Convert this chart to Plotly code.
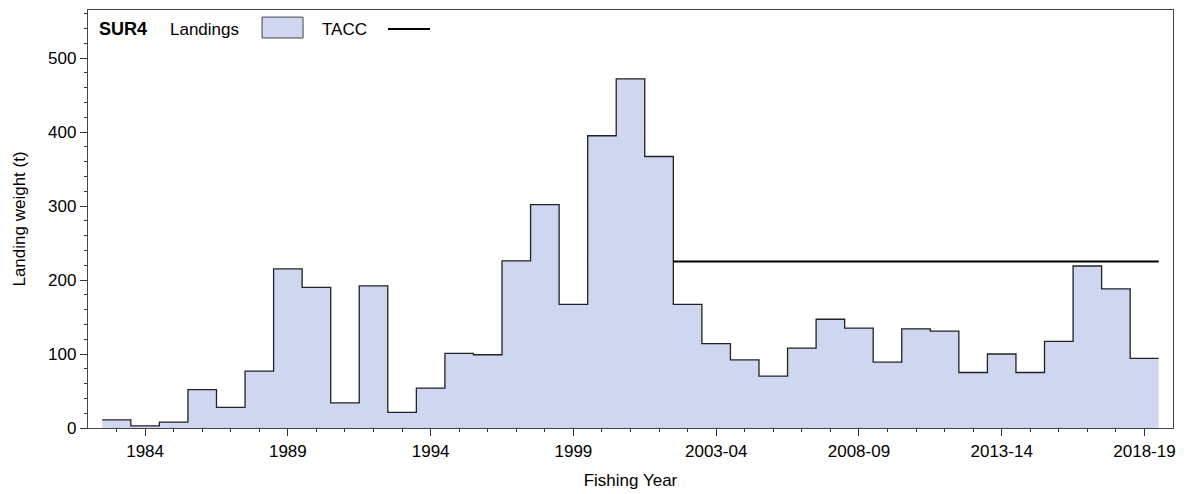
import plotly.graph_objects as go

# ---- data ----
years = ["1983", "1984", "1985", "1986", "1987", "1988", "1989", "1990", "1991", "1992",
         "1993", "1994", "1995", "1996", "1997", "1998", "1999", "2000", "2001", "2001-02",
         "2002-03", "2003-04", "2004-05", "2005-06", "2006-07", "2007-08", "2008-09", "2009-10",
         "2010-11", "2011-12", "2012-13", "2013-14", "2014-15", "2015-16", "2016-17", "2017-18",
         "2018-19"]
landings = [11, 3, 8, 52, 28, 77, 215, 190, 34, 192,
            21, 54, 101, 99, 226, 302, 167, 395, 472, 367,
            167, 114, 92, 70, 108, 147, 135, 89, 134, 131,
            75, 100, 75, 117, 219, 188, 94]
tacc = [None] * 20 + [225] * 17
tick_labels = ["1984", "1989", "1994", "1999", "2003-04", "2008-09", "2013-14", "2018-19"]

FONT = "Liberation Sans, Arial, sans-serif"
n = len(years)
idx = list(range(n))

# step edges for the filled histogram outline
lx = [i - 0.5 for i in idx] + [n - 0.5]
ly = landings + [landings[-1]]

tx, ty = [], []
for i, v in enumerate(tacc):
    if v is not None:
        tx.append(i - 0.5)
        ty.append(v)
tx.append(n - 0.5)
ty.append(tacc[-1])

fig = go.Figure()
fig.add_trace(go.Scatter(
    x=lx, y=ly, mode="lines", line=dict(shape="hv", color="#222222", width=1.3),
    fill="tozeroy", fillcolor="#CFD6EF", showlegend=False, hoverinfo="skip"))
fig.add_trace(go.Scatter(
    x=tx, y=ty, mode="lines", line=dict(shape="hv", color="#000000", width=2),
    showlegend=False, hoverinfo="skip"))

tickvals = [years.index(t) for t in tick_labels]

fig.update_layout(
    width=1189, height=494,
    margin=dict(l=88, r=16, t=10, b=66),
    paper_bgcolor="white", plot_bgcolor="white",
    font=dict(family=FONT, size=17, color="#000000"),
    xaxis=dict(
        range=[-1, n], tickmode="array", tickvals=tickvals, ticktext=tick_labels,
        ticks="outside", ticklen=7, tickcolor="#333333", tickwidth=1,
        minor=dict(tickmode="array", tickvals=idx, ticks="outside", ticklen=3,
                   tickcolor="#333333", tickwidth=1, showgrid=False),
        showline=True, linecolor="#444444", linewidth=1.3, mirror=True,
        showgrid=False, zeroline=False, automargin=False,
        title=dict(text="Fishing Year", font=dict(size=17), standoff=14),
    ),
    yaxis=dict(
        range=[0, 565], tickmode="array", tickvals=[0, 100, 200, 300, 400, 500],
        ticks="outside", ticklen=7, tickcolor="#333333", tickwidth=1,
        minor=dict(dtick=20, ticks="outside", ticklen=3, tickcolor="#333333",
                   tickwidth=1, showgrid=False),
        showline=True, linecolor="#444444", linewidth=1.3, mirror=True,
        showgrid=False, zeroline=False, automargin=False,
        title=dict(text="Landing weight (t)", font=dict(size=17), standoff=18),
    ),
)

# in-plot legend (text before symbol)
ly_c = 0.9545
fig.add_annotation(xref="paper", yref="paper", x=0.0083, y=ly_c, xanchor="left", yanchor="middle",
                   text="<b>SUR4</b>", showarrow=False, font=dict(size=18))
fig.add_annotation(xref="paper", yref="paper", x=0.0737, y=ly_c, xanchor="left", yanchor="middle",
                   text="Landings", showarrow=False, font=dict(size=17))
fig.add_shape(type="rect", xref="paper", yref="paper", x0=0.1604, x1=0.1982, y0=0.933, y1=0.983,
              fillcolor="#CFD6EF", line=dict(color="#444444", width=1))
fig.add_annotation(xref="paper", yref="paper", x=0.2138, y=ly_c, xanchor="left", yanchor="middle",
                   text="TACC", showarrow=False, font=dict(size=17))
fig.add_shape(type="line", xref="paper", yref="paper", x0=0.2765, x1=0.3152, y0=ly_c, y1=ly_c,
              line=dict(color="#000000", width=2))

fig.write_html("out.html", config={"displayModeBar": False},
               post_script="document.body.style.margin='0';")
